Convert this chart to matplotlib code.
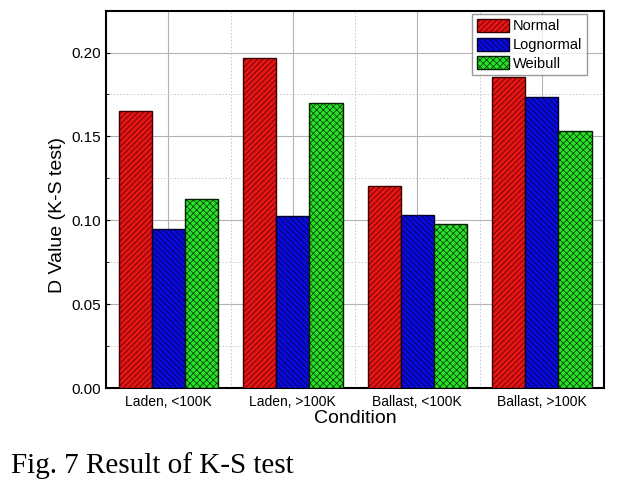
import matplotlib
matplotlib.use("Agg")
import matplotlib.pyplot as plt
import numpy as np
from matplotlib.ticker import MultipleLocator

categories = ["Laden, <100K", "Laden, >100K", "Ballast, <100K", "Ballast, >100K"]
series_names = ["Normal", "Lognormal", "Weibull"]
normal = [0.165, 0.197, 0.1205, 0.1855]
lognormal = [0.0945, 0.1025, 0.103, 0.1735]
weibull = [0.1125, 0.1697, 0.0975, 0.153]

colors = ["#e61414", "#0a0adc", "#28e028"]
edges = ["#3a0000", "#00002a", "#002000"]
hatches = ["//////", "\\\\\\\\\\\\", "xxxxx"]

plt.rcParams["font.family"] = ["Liberation Sans", "DejaVu Sans"]
plt.rcParams["hatch.linewidth"] = 0.45

fig = plt.figure(figsize=(6.24, 4.82), dpi=100)
ax = fig.add_axes([0.170, 0.195, 0.798, 0.783])

x = np.arange(len(categories))
w = 0.8 / 3
for i, (vals, name) in enumerate(zip([normal, lognormal, weibull], series_names)):
    ax.bar(x + (i - 1) * w, vals, width=w, color=colors[i], edgecolor=edges[i],
           hatch=hatches[i], linewidth=1.0, label=name, zorder=3)

ax.set_xlim(-0.5, 3.5)
ax.set_ylim(0, 0.225)
ax.set_xticks(x)
ax.set_xticklabels(categories, fontsize=10)
ax.set_xticks(x + 0.5, minor=True)
ax.yaxis.set_major_locator(MultipleLocator(0.05))
ax.yaxis.set_minor_locator(MultipleLocator(0.025))
ax.yaxis.set_major_formatter(matplotlib.ticker.FormatStrFormatter("%.2f"))
ax.tick_params(axis="y", labelsize=11, direction="in", length=3, width=0.8)
ax.tick_params(axis="y", which="minor", direction="in", length=2)
ax.tick_params(axis="x", which="both", length=0, pad=5)

ax.grid(True, which="major", color="#b4b4b4", linestyle="-", linewidth=0.8, zorder=0)
ax.grid(True, which="minor", color="#c8c8c8", linestyle=(0, (1.5, 2)), linewidth=0.7, zorder=0)
ax.set_axisbelow(True)

for s in ax.spines.values():
    s.set_linewidth(1.5)
    s.set_color("black")

ax.set_ylabel("D Value (K-S test)", fontsize=14)
ax.yaxis.set_label_coords(-0.080, 0.459)
ax.set_xlabel("Condition", fontsize=14, labelpad=1)

leg = ax.legend(loc="upper right", bbox_to_anchor=(0.973, 1.0), fontsize=10.5,
                frameon=True, fancybox=False, handlelength=2.2, handleheight=1.0,
                handletextpad=0.3, borderpad=0.3, labelspacing=0.3, borderaxespad=0.25)
leg.get_frame().set_edgecolor("#808080")
leg.get_frame().set_linewidth(1.0)

fig.text(11 / 624, 1 - 472.7 / 482, "Fig. 7 Result of K-S test", fontsize=21,
         family=["Liberation Serif", "DejaVu Serif"], ha="left", va="baseline")

fig.savefig("out.png", dpi=100)
